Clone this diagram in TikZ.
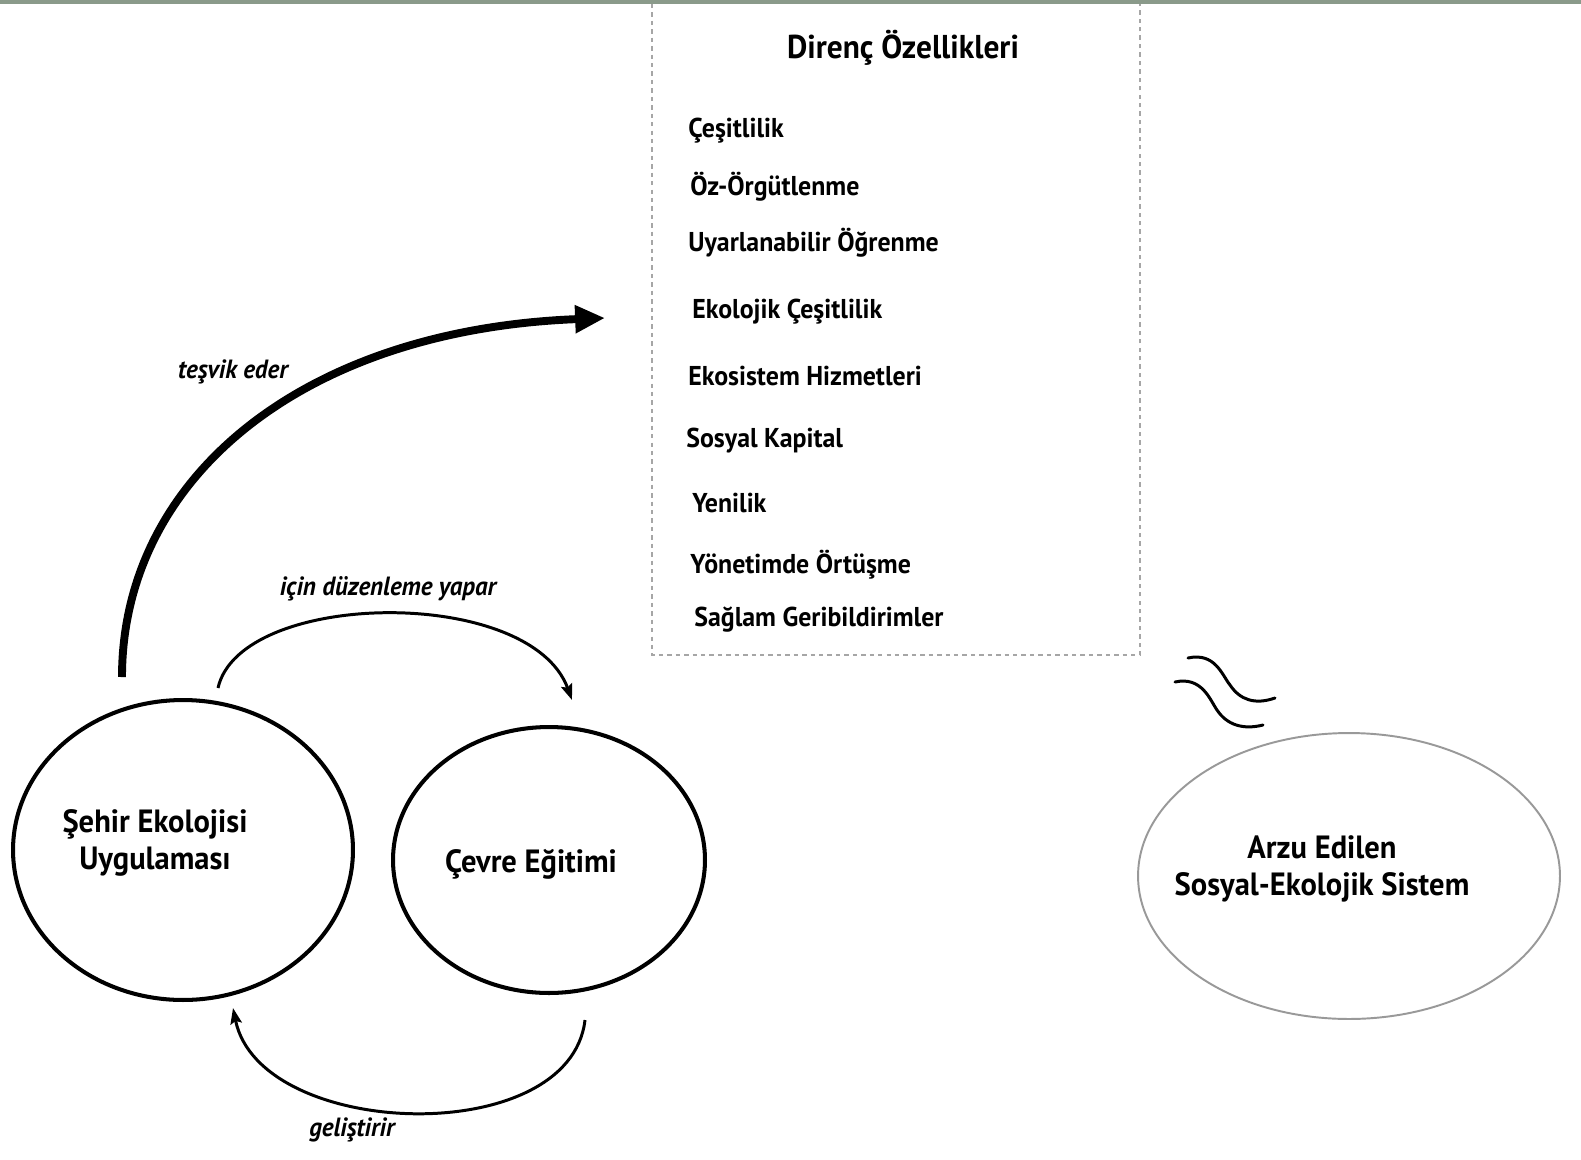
\documentclass[tikz,border=0pt]{standalone}
\usepackage{fontspec}
\setmainfont{PT Sans}[FakeStretch=0.95]
\usetikzlibrary{shapes.geometric,arrows.meta}
\definecolor{ustcizgi}{RGB}{138,154,138}
\tikzset{
  halka/.style={ellipse,draw,line width=2.3pt,inner sep=0pt},
  halkaad/.style={align=center,inner sep=0pt,font=\fontsize{18.3}{21.5}\selectfont\bfseries},
  madde/.style={anchor=west,inner sep=0pt,font=\fontsize{15.5}{18}\selectfont\bfseries},
  etiket/.style={inner sep=0pt,font=\fontsize{15}{17}\selectfont\bfseries\itshape},
  ok/.style={line width=1.7pt,-{Stealth[length=9pt,width=6.5pt,inset=1.5pt]}},
  dalga/.style={line width=1.7pt,line cap=round}
}

\begin{document}
\begin{tikzpicture}[x=0.02cm,y=-0.02cm]
  \useasboundingbox (0,0) rectangle (1581,1159);
  \fill [white] (0,0) rectangle (1581,1159);
  \fill [ustcizgi] (0,0) rectangle (1581,4);

  \draw [gray!70,line width=1.2pt,dash pattern=on 2.5pt off 2.3pt] (652,4) -- (652,655) -- (1140,655) -- (1140,4);
  \node [inner sep=0pt,font=\fontsize{18.8}{22}\selectfont\bfseries] (baslik) at (903,48) {Direnç Özellikleri};
  \foreach \x/\y/\ad [count=\i] in {688/131/Çeşitlilik,690/187/Öz-Örgütlenme,688/243/Uyarlanabilir Öğrenme,
      692/312/Ekolojik Çeşitlilik,688/376/Ekosistem Hizmetleri,686/441/Sosyal Kapital,
      692/503/Yenilik,690/565/Yönetimde Örtüşme,694/620/Sağlam Geribildirimler}
    \node [madde] (oz\i) at (\x,\y) {\ad};

  \node [halka,minimum width=6.8cm,minimum height=6cm] (sehir) at (183,850) {};
  \node [halkaad] (sehirad) at (155,843) {Şehir Ekolojisi\\Uygulaması};
  \node [halka,minimum width=6.24cm,minimum height=5.32cm] (cevre) at (549,860) {};
  \node [halkaad] (cevread) at (531,864) {Çevre Eğitimi};
  \node [halka,draw=gray!80,line width=1.1pt,minimum width=8.44cm,minimum height=5.72cm] (sistem) at (1349,876) {};
  \node [halkaad] (sistemad) at (1322,869) {Arzu Edilen\\Sosyal-Ekolojik Sistem};

  \coordinate (tesvik1) at (122,677);
  \coordinate (tesvik2) at (605,318);
  \draw [line width=4.5pt,-{Triangle[length=17pt,width=15pt]}] (tesvik1) .. controls (122,480) and (300,330) .. (tesvik2);
  \node [etiket] (tesvikad) at (233,372) {teşvik eder};

  \coordinate (duzen1) at (218,688);
  \coordinate (duzen2) at (572,700);
  \draw [ok] (duzen1) .. controls (240,590) and (530,585) .. (duzen2);
  \node [etiket] (duzenad) at (388,589) {için düzenleme yapar};

  \coordinate (gelis1) at (585,1020);
  \coordinate (gelis2) at (233,1008);
  \draw [ok] (gelis1) .. controls (570,1150) and (260,1140) .. (gelis2);
  \node [etiket] (gelisad) at (352,1130) {geliştirir};

  \draw [dalga] (1188,658) .. controls (1215,652) and (1222,675) .. (1230,685) .. controls (1240,700) and (1255,705) .. (1275,698);
  \draw [dalga] (1175,682) .. controls (1202,676) and (1210,700) .. (1217,710) .. controls (1227,725) and (1243,730) .. (1263,725);
\end{tikzpicture}
\end{document}
